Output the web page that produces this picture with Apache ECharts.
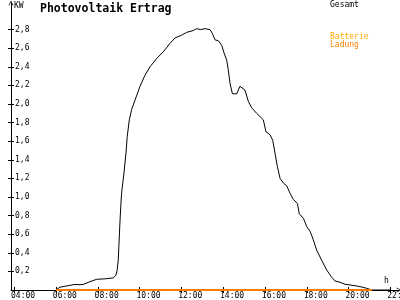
<!DOCTYPE html>
<html>
<head>
<meta charset="utf-8">
<script src="https://cdn.jsdelivr.net/npm/echarts@6/dist/echarts.min.js"></script>
<style>
html,body{margin:0;padding:0;background:#fff;}
#chart{width:400px;height:300px;}
</style>
</head>
<body>
<div id="chart"></div>
<script>
// Time of day (decimal hours) and total PV output (kW)
var hours = [6.00, 6.19, 6.43, 6.67, 6.91, 7.15, 7.31, 7.63, 7.95, 8.35, 8.74, 8.87, 8.93, 8.98, 9.01, 9.06, 9.10, 9.14, 9.25, 9.35, 9.41, 9.51, 9.62, 9.78, 10.02, 10.26, 10.50, 10.82, 11.13, 11.45, 11.69, 12.01, 12.25, 12.57, 12.73, 12.92, 13.13, 13.37, 13.48, 13.61, 13.77, 13.93, 14.04, 14.17, 14.24, 14.33, 14.44, 14.65, 14.80, 14.88, 15.04, 15.20, 15.36, 15.60, 15.92, 16.05, 16.24, 16.37, 16.48, 16.59, 16.72, 16.88, 17.04, 17.20, 17.35, 17.55, 17.64, 17.84, 18.00, 18.16, 18.31, 18.47, 18.71, 18.95, 19.19, 19.35, 19.59, 19.83, 20.07, 20.39, 20.63, 20.87, 21.11, 22.00];
var gesamt = [0.00, 0.03, 0.04, 0.05, 0.06, 0.057, 0.06, 0.09, 0.115, 0.12, 0.13, 0.16, 0.215, 0.32, 0.47, 0.72, 0.90, 1.04, 1.25, 1.47, 1.65, 1.83, 1.94, 2.04, 2.19, 2.31, 2.40, 2.49, 2.56, 2.65, 2.71, 2.74, 2.77, 2.79, 2.81, 2.80, 2.81, 2.80, 2.76, 2.69, 2.68, 2.63, 2.55, 2.47, 2.37, 2.22, 2.11, 2.11, 2.19, 2.20, 2.15, 2.03, 1.96, 1.90, 1.83, 1.70, 1.67, 1.61, 1.47, 1.33, 1.20, 1.15, 1.12, 1.04, 0.975, 0.93, 0.82, 0.77, 0.68, 0.63, 0.54, 0.43, 0.32, 0.215, 0.137, 0.097, 0.083, 0.061, 0.054, 0.043, 0.032, 0.018, 0.00, 0.00];
// Battery charging (kW)
var ladungHours = [6.00, 21.11];
var ladung = [0, 0];
// Tick values
var xTickHours = [4, 6, 8, 10, 12, 14, 16, 18, 20, 22];
var yTicks = [0.2, 0.4, 0.6, 0.8, 1.0, 1.2, 1.4, 1.6, 1.8, 2.0, 2.2, 2.4, 2.6, 2.8];

function pairs(xs, ys) { return xs.map(function (x, i) { return [x, ys[i]]; }); }
function pad(n) { return (n < 10 ? '0' : '') + n; }

var mono = 'DejaVu Sans Mono';
var arrow = 'path://M0,10 L5,0 L10,10 L8.6,10 L5,2.8 L1.4,10 Z';

var chart = echarts.init(document.getElementById('chart'), null, {renderer: 'canvas'});
chart.setOption({
  animation: false,
  backgroundColor: '#fff',
  grid: {left: 11, right: 1, top: 3, bottom: 10, containLabel: false, outerBoundsMode: 'none'},
  xAxis: [{
    type: 'value', min: 3.85, max: 22.41, position: 'bottom',
    axisLine: {show: true, onZero: false, lineStyle: {color: '#000', width: 1}, symbol: ['none', arrow], symbolSize: [6, 5]},
    axisTick: {show: true, customValues: xTickHours, length: 3, lineStyle: {color: '#000'}},
    axisLabel: {
      show: true, customValues: xTickHours.map(function (h) { return h - 0.15; }),
      formatter: function (v) { return pad(Math.round(v)) + ':00'; },
      align: 'left', margin: 2, fontFamily: mono, fontSize: 8, color: '#000', hideOverlap: false
    },
    splitLine: {show: false}
  }, {
    type: 'value', min: 3.85, max: 22.41, position: 'bottom',
    axisLine: {show: false},
    axisTick: {show: true, inside: true, customValues: xTickHours, length: 3, lineStyle: {color: '#000'}},
    axisLabel: {show: false},
    splitLine: {show: false}
  }],
  yAxis: [{
    type: 'value', min: 0, max: 3.086, position: 'left',
    axisLine: {show: true, onZero: false, lineStyle: {color: '#000', width: 1}, symbol: ['none', arrow], symbolSize: [6, 5]},
    axisTick: {show: true, customValues: yTicks, length: 3, lineStyle: {color: '#000'}},
    axisLabel: {
      show: true, inside: true, customValues: yTicks, margin: 4,
      formatter: function (v) { return v.toFixed(1).replace('.', ','); },
      fontFamily: mono, fontSize: 8, color: '#000'
    },
    splitLine: {show: false}
  }, {
    type: 'value', min: 0, max: 3.086, position: 'left',
    axisLine: {show: false},
    axisTick: {show: true, inside: true, customValues: yTicks, length: 3, lineStyle: {color: '#000'}},
    axisLabel: {show: false},
    splitLine: {show: false}
  }],
  series: [{
    name: 'Gesamt', type: 'line', xAxisIndex: 0, yAxisIndex: 0,
    data: pairs(hours, gesamt), showSymbol: false, symbol: 'none',
    lineStyle: {color: '#000', width: 1}, itemStyle: {color: '#000'}, z: 3
  }, {
    name: 'Ladung', type: 'line', xAxisIndex: 0, yAxisIndex: 0,
    data: pairs(ladungHours, ladung), showSymbol: false, symbol: 'none',
    lineStyle: {color: '#ff8000', width: 2}, itemStyle: {color: '#ff8000'}, z: 4
  }],
  graphic: [
    {type: 'text', left: 40, top: 3, style: {text: 'Photovoltaik Ertrag', font: 'bold 11.5px "DejaVu Sans Mono"', fill: '#000'}},
    {type: 'text', left: 14, top: 2, style: {text: 'KW', font: '8px "DejaVu Sans Mono"', fill: '#000'}},
    {type: 'text', left: 330, top: 1, style: {text: 'Gesamt', font: '8px "DejaVu Sans Mono"', fill: '#000'}},
    {type: 'text', left: 330, top: 33, style: {text: 'Batterie', font: '8px "DejaVu Sans Mono"', fill: '#ffaa00'}},
    {type: 'text', left: 330, top: 41, style: {text: 'Ladung', font: '8px "DejaVu Sans Mono"', fill: '#ff8000'}},
    {type: 'text', left: 384, top: 277, style: {text: 'h', font: '8px "DejaVu Sans Mono"', fill: '#000'}}
  ]
});
</script>
</body>
</html>
